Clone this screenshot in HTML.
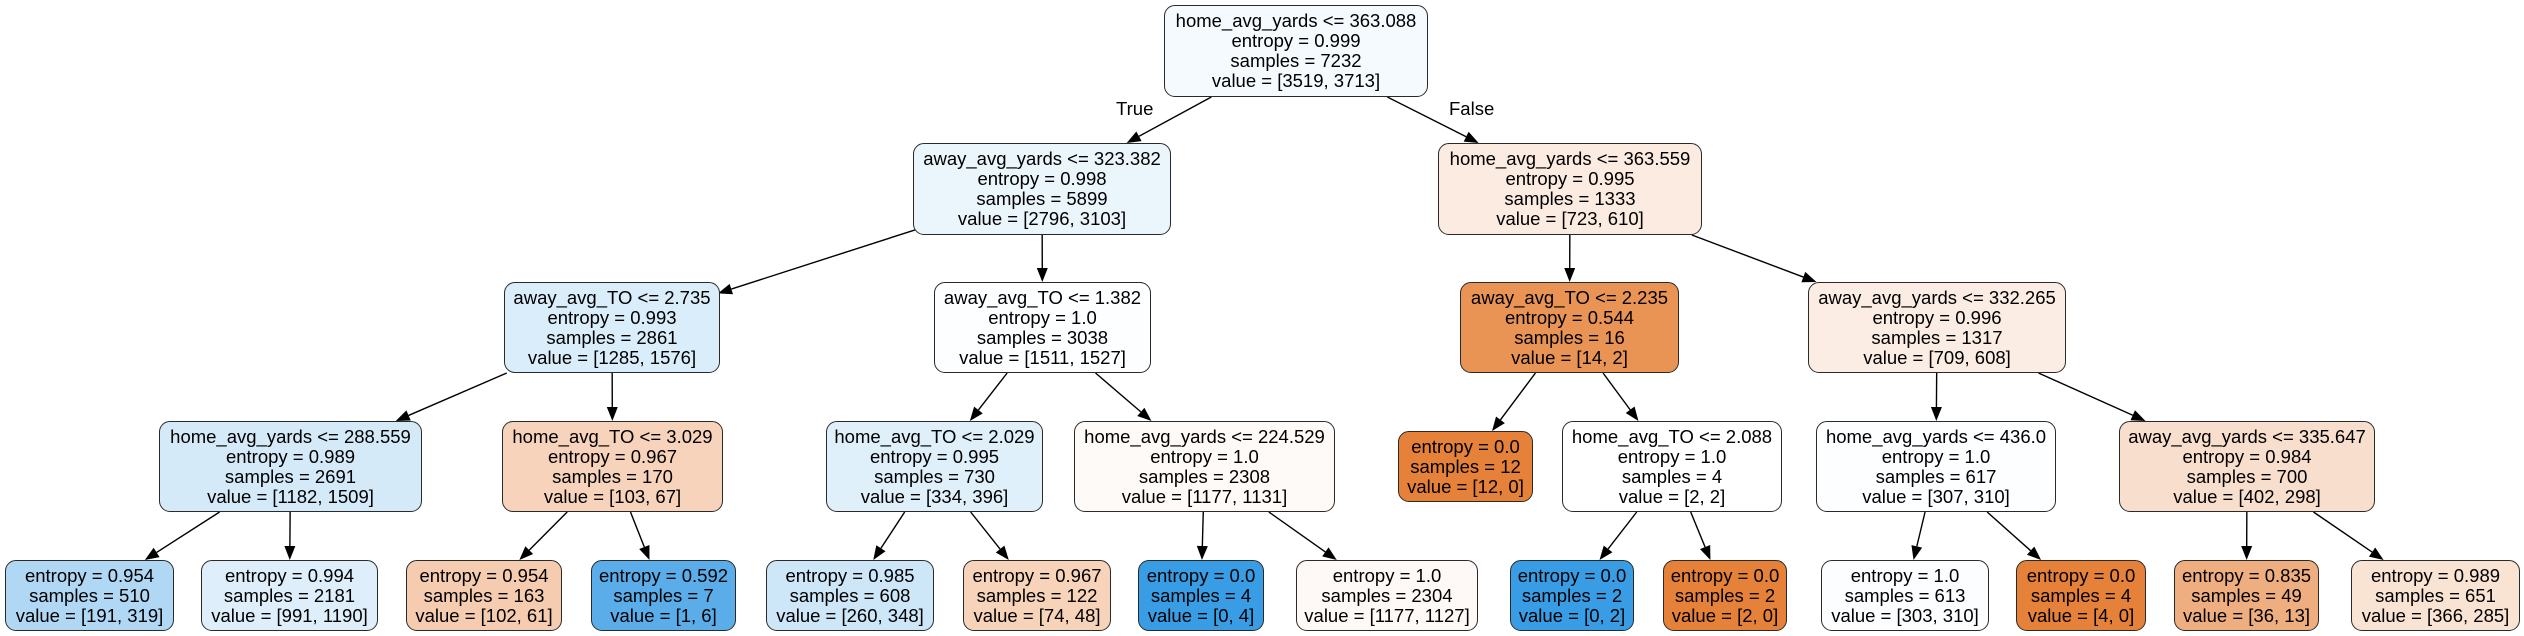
<!DOCTYPE html>
<html><head><meta charset="utf-8">
<style>
html,body{margin:0;padding:0;background:#fff;}
#c{position:relative;width:2524px;height:636px;overflow:hidden;font-family:"Liberation Sans",Arial,sans-serif;}
.n{position:absolute;box-sizing:border-box;border:1.4px solid #2a2a2a;border-radius:11px;display:flex;flex-direction:column;justify-content:center;align-items:center;font-size:18.5px;line-height:20px;color:#000;white-space:nowrap;}
.n div{text-align:center;}
.lbl{position:absolute;font-size:18.5px;}
svg{position:absolute;left:0;top:0;}
</style></head><body><div id="c">
<svg id="s" width="2524" height="636"></svg>
<div class="lbl" style="left:1116px;top:98px">True</div>
<div class="lbl" style="left:1449px;top:98px">False</div>

<div class="n" id="n0" style="left:1164px;top:5px;width:264px;height:92px;background:#f5fafe"><div>home_avg_yards &lt;= 363.088</div><div>entropy = 0.999</div><div>samples = 7232</div><div>value = [3519, 3713]</div></div>
<div class="n" id="n1" style="left:913px;top:143px;width:258px;height:92px;background:#ebf5fc"><div>away_avg_yards &lt;= 323.382</div><div>entropy = 0.998</div><div>samples = 5899</div><div>value = [2796, 3103]</div></div>
<div class="n" id="n2" style="left:1438px;top:143px;width:264px;height:92px;background:#fbebe0"><div>home_avg_yards &lt;= 363.559</div><div>entropy = 0.995</div><div>samples = 1333</div><div>value = [723, 610]</div></div>
<div class="n" id="n3" style="left:504px;top:282px;width:216px;height:91px;background:#daedfa"><div>away_avg_TO &lt;= 2.735</div><div>entropy = 0.993</div><div>samples = 2861</div><div>value = [1285, 1576]</div></div>
<div class="n" id="n4" style="left:934px;top:282px;width:217px;height:91px;background:#fdfeff"><div>away_avg_TO &lt;= 1.382</div><div>entropy = 1.0</div><div>samples = 3038</div><div>value = [1511, 1527]</div></div>
<div class="n" id="n5" style="left:1460px;top:282px;width:219px;height:91px;background:#e99355"><div>away_avg_TO &lt;= 2.235</div><div>entropy = 0.544</div><div>samples = 16</div><div>value = [14, 2]</div></div>
<div class="n" id="n6" style="left:1808px;top:282px;width:258px;height:91px;background:#fbede3"><div>away_avg_yards &lt;= 332.265</div><div>entropy = 0.996</div><div>samples = 1317</div><div>value = [709, 608]</div></div>
<div class="n" id="n7" style="left:159px;top:421px;width:263px;height:91px;background:#d4eaf9"><div>home_avg_yards &lt;= 288.559</div><div>entropy = 0.989</div><div>samples = 2691</div><div>value = [1182, 1509]</div></div>
<div class="n" id="n8" style="left:502px;top:421px;width:221px;height:91px;background:#f6d3ba"><div>home_avg_TO &lt;= 3.029</div><div>entropy = 0.967</div><div>samples = 170</div><div>value = [103, 67]</div></div>
<div class="n" id="n9" style="left:826px;top:421px;width:217px;height:91px;background:#e0f0fb"><div>home_avg_TO &lt;= 2.029</div><div>entropy = 0.995</div><div>samples = 730</div><div>value = [334, 396]</div></div>
<div class="n" id="n10" style="left:1074px;top:421px;width:261px;height:91px;background:#fefaf7"><div>home_avg_yards &lt;= 224.529</div><div>entropy = 1.0</div><div>samples = 2308</div><div>value = [1177, 1131]</div></div>
<div class="n" id="n11" style="left:1398px;top:431px;width:135px;height:71px;background:#e58139"><div>entropy = 0.0</div><div>samples = 12</div><div>value = [12, 0]</div></div>
<div class="n" id="n12" style="left:1562px;top:421px;width:220px;height:91px;background:#ffffff"><div>home_avg_TO &lt;= 2.088</div><div>entropy = 1.0</div><div>samples = 4</div><div>value = [2, 2]</div></div>
<div class="n" id="n13" style="left:1816px;top:421px;width:240px;height:91px;background:#fdfeff"><div>home_avg_yards &lt;= 436.0</div><div>entropy = 1.0</div><div>samples = 617</div><div>value = [307, 310]</div></div>
<div class="n" id="n14" style="left:2119px;top:421px;width:256px;height:91px;background:#f8decc"><div>away_avg_yards &lt;= 335.647</div><div>entropy = 0.984</div><div>samples = 700</div><div>value = [402, 298]</div></div>

<div class="n" id="n15" style="left:5px;top:560px;width:169px;height:71px;background:#b0d8f5"><div>entropy = 0.954</div><div>samples = 510</div><div>value = [191, 319]</div></div>
<div class="n" id="n16" style="left:201px;top:560px;width:177px;height:71px;background:#deeffb"><div>entropy = 0.994</div><div>samples = 2181</div><div>value = [991, 1190]</div></div>
<div class="n" id="n17" style="left:406px;top:560px;width:156px;height:71px;background:#f5ccaf"><div>entropy = 0.954</div><div>samples = 163</div><div>value = [102, 61]</div></div>
<div class="n" id="n18" style="left:591px;top:560px;width:145px;height:71px;background:#5aade9"><div>entropy = 0.592</div><div>samples = 7</div><div>value = [1, 6]</div></div>
<div class="n" id="n19" style="left:766px;top:560px;width:168px;height:71px;background:#cde6f8"><div>entropy = 0.985</div><div>samples = 608</div><div>value = [260, 348]</div></div>
<div class="n" id="n20" style="left:963px;top:560px;width:148px;height:71px;background:#f6d3b9"><div>entropy = 0.967</div><div>samples = 122</div><div>value = [74, 48]</div></div>
<div class="n" id="n21" style="left:1138px;top:560px;width:126px;height:71px;background:#399de5"><div>entropy = 0.0</div><div>samples = 4</div><div>value = [0, 4]</div></div>
<div class="n" id="n22" style="left:1296px;top:560px;width:182px;height:71px;background:#fef9f6"><div>entropy = 1.0</div><div>samples = 2304</div><div>value = [1177, 1127]</div></div>
<div class="n" id="n23" style="left:1510px;top:560px;width:124px;height:71px;background:#399de5"><div>entropy = 0.0</div><div>samples = 2</div><div>value = [0, 2]</div></div>
<div class="n" id="n24" style="left:1663px;top:560px;width:124px;height:71px;background:#e58139"><div>entropy = 0.0</div><div>samples = 2</div><div>value = [2, 0]</div></div>
<div class="n" id="n25" style="left:1821px;top:560px;width:168px;height:71px;background:#fbfdfe"><div>entropy = 1.0</div><div>samples = 613</div><div>value = [303, 310]</div></div>
<div class="n" id="n26" style="left:2016px;top:560px;width:130px;height:71px;background:#e58139"><div>entropy = 0.0</div><div>samples = 4</div><div>value = [4, 0]</div></div>
<div class="n" id="n27" style="left:2174px;top:560px;width:145px;height:71px;background:#eeae80"><div>entropy = 0.835</div><div>samples = 49</div><div>value = [36, 13]</div></div>
<div class="n" id="n28" style="left:2351px;top:560px;width:169px;height:71px;background:#f9e3d3"><div>entropy = 0.989</div><div>samples = 651</div><div>value = [366, 285]</div></div>
</div>
<script>
var E=[[0,1],[0,2],[1,3],[1,4],[2,5],[2,6],[3,7],[3,8],[4,9],[4,10],[5,11],[5,12],[6,13],[6,14],
[7,15],[7,16],[8,17],[8,18],[9,19],[9,20],[10,21],[10,22],[12,23],[12,24],[13,25],[13,26],[14,27],[14,28]];
function b(i){var e=document.getElementById('n'+i);return {l:e.offsetLeft,t:e.offsetTop,w:e.offsetWidth,h:e.offsetHeight};}
function clip(r,dx,dy){var hw=r.w/2-2,hh=r.h/2;var t=Math.min(dx?hw/Math.abs(dx):1e9,dy?hh/Math.abs(dy):1e9);return t;}
var s=document.getElementById('s'),h='';
E.forEach(function(p){var a=b(p[0]),c=b(p[1]);
var ax=a.l+a.w/2,ay=a.t+a.h/2,cx=c.l+c.w/2,cy=c.t+c.h/2;
var dx=cx-ax,dy=cy-ay;
var t1=clip(a,dx,dy),t2=1-clip(c,dx,dy);
var x1=ax+dx*t1,y1=ay+dy*t1,x2=ax+dx*t2,y2=ay+dy*t2;
var L=Math.sqrt((x2-x1)*(x2-x1)+(y2-y1)*(y2-y1)),ux=(x2-x1)/L,uy=(y2-y1)/L;
var bx=x2-ux*14,by=y2-uy*14,px=-uy*5.5,py=ux*5.5;
h+='<line x1="'+x1+'" y1="'+y1+'" x2="'+bx+'" y2="'+by+'" stroke="#000" stroke-width="1.4"/>';
h+='<polygon points="'+x2+','+y2+' '+(bx+px)+','+(by+py)+' '+(bx-px)+','+(by-py)+'" fill="#000"/>';
});
s.innerHTML=h;
</script>
</body></html>
